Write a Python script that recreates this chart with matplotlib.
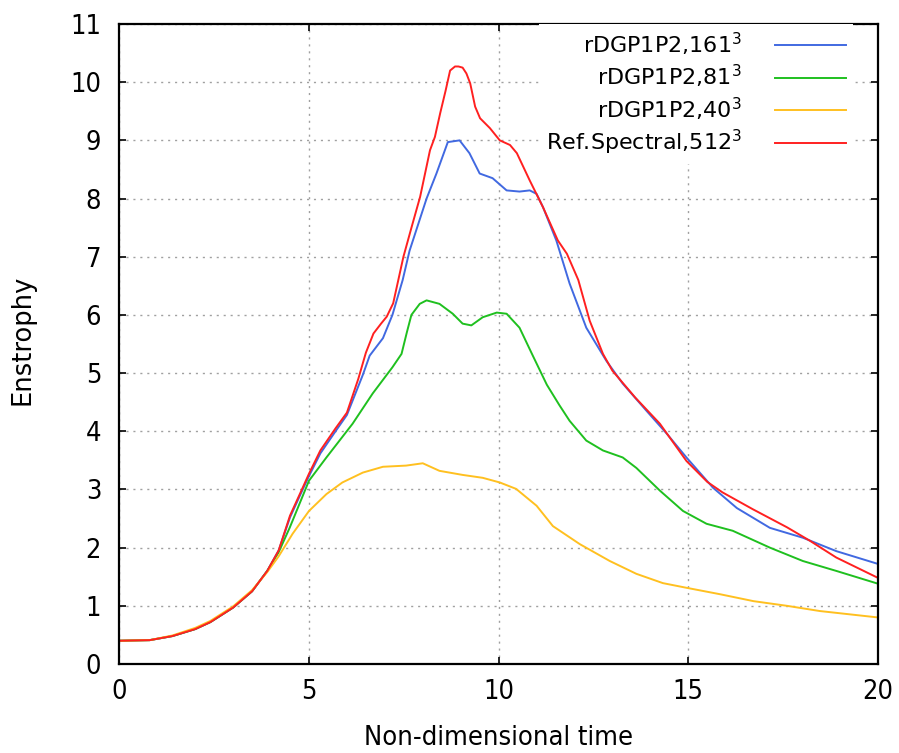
import matplotlib
matplotlib.use("Agg")
import matplotlib.pyplot as plt
from matplotlib import font_manager as fm

# ---- data ----
t_blue = [0, 0.8, 1.4, 2.0, 2.4, 3.0, 3.5, 3.9, 4.2, 4.5, 4.8, 5.0, 5.3, 5.7, 6.0, 6.42, 6.6,
          6.95, 7.2, 7.47, 7.65, 8.1, 8.36, 8.66, 8.97, 9.23, 9.5, 9.84, 10.21, 10.55, 10.82,
          11.0, 11.17, 11.52, 11.87, 12.31, 12.84, 13.27, 13.9, 14.43, 14.95, 15.65, 16.28,
          17.15, 18.02, 18.9, 20.0]
v_blue = [0.4, 0.41, 0.48, 0.6, 0.72, 0.97, 1.25, 1.6, 1.95, 2.52, 2.95, 3.23, 3.62, 4.0, 4.28,
          4.97, 5.3, 5.6, 6.0, 6.6, 7.1, 8.0, 8.43, 8.97, 9.0, 8.78, 8.43, 8.35, 8.14, 8.12, 8.14,
          8.08, 7.85, 7.28, 6.54, 5.78, 5.21, 4.82, 4.35, 3.96, 3.55, 3.03, 2.68, 2.34, 2.17,
          1.94, 1.72]

t_green = [0, 0.8, 1.4, 2.0, 2.4, 3.0, 3.5, 3.9, 4.2, 4.49, 5.0, 5.46, 6.15, 6.68, 7.2, 7.44,
           7.58, 7.7, 7.92, 8.1, 8.44, 8.79, 9.05, 9.28, 9.58, 9.95, 10.21, 10.55, 10.9, 11.27,
           11.6, 11.87, 12.31, 12.75, 13.27, 13.63, 14.25, 14.86, 15.48, 16.17, 17.15, 18.02,
           18.9, 20.0]
v_green = [0.4, 0.41, 0.48, 0.6, 0.72, 0.97, 1.25, 1.6, 1.92, 2.34, 3.15, 3.55, 4.13, 4.65, 5.1,
           5.33, 5.7, 6.0, 6.19, 6.25, 6.19, 6.02, 5.85, 5.82, 5.96, 6.04, 6.02, 5.78, 5.3, 4.8,
           4.45, 4.18, 3.84, 3.67, 3.55, 3.37, 2.98, 2.63, 2.41, 2.29, 2.0, 1.77, 1.6, 1.38]

t_yellow = [0, 0.8, 1.4, 2.0, 2.4, 3.0, 3.5, 3.9, 4.2, 4.57, 5.0, 5.46, 5.88, 6.42, 6.95, 7.56,
            8.0, 8.44, 9.05, 9.58, 10.03, 10.46, 11.0, 11.43, 12.14, 12.93, 13.63, 14.33, 14.95,
            15.83, 16.72, 17.6, 18.47, 20.0]
v_yellow = [0.4, 0.41, 0.49, 0.62, 0.74, 0.99, 1.27, 1.58, 1.85, 2.24, 2.63, 2.92, 3.12, 3.29,
            3.39, 3.41, 3.45, 3.32, 3.25, 3.2, 3.12, 3.01, 2.72, 2.37, 2.06, 1.77, 1.55, 1.39,
            1.31, 1.2, 1.08, 1.0, 0.91, 0.8]

t_red = [0, 0.8, 1.4, 2.0, 2.4, 3.0, 3.5, 3.9, 4.2, 4.5, 4.8, 5.0, 5.3, 5.7, 6.0, 6.3, 6.5, 6.7,
         6.9, 7.05, 7.22, 7.49, 7.71, 7.93, 8.19, 8.32, 8.46, 8.6, 8.72, 8.85, 8.94, 9.05, 9.15,
         9.25, 9.38, 9.51, 9.77, 10.03, 10.3, 10.48, 10.82, 11.17, 11.56, 11.8, 12.1, 12.4,
         12.75, 13.0, 13.6, 14.25, 14.95, 15.5, 15.9, 16.7, 17.6, 18.2, 18.9, 20.0]
v_red = [0.4, 0.41, 0.48, 0.6, 0.72, 0.97, 1.25, 1.6, 1.95, 2.55, 2.98, 3.27, 3.67, 4.05, 4.32,
         4.9, 5.35, 5.68, 5.85, 5.97, 6.2, 7.0, 7.52, 8.03, 8.83, 9.06, 9.47, 9.85, 10.2, 10.27,
         10.27, 10.25, 10.15, 9.98, 9.58, 9.38, 9.21, 9.0, 8.92, 8.78, 8.31, 7.85, 7.28, 7.05,
         6.6, 5.9, 5.33, 5.04, 4.58, 4.13, 3.49, 3.13, 2.95, 2.66, 2.35, 2.12, 1.83, 1.48]

labels = [r"rDGP1P2,161$^3$", r"rDGP1P2,81$^3$", r"rDGP1P2,40$^3$", r"Ref.Spectral,512$^3$"]
colors = ["#4169e1", "#1fc01f", "#ffc020", "#ff2020"]
x_ticks = [0, 5, 10, 15, 20]
y_ticks = list(range(0, 12))

# ---- fonts ----
plt.rcParams["font.family"] = ["DejaVu Sans"]
plt.rcParams["mathtext.fontset"] = "dejavusans"
cond = fm.FontProperties(family="DejaVu Sans", stretch="condensed")
cond_file = fm.findfont(cond)
if "Condensed" in cond_file:
    tick_fp = fm.FontProperties(fname=cond_file, size=19.5)
    lab_fp = fm.FontProperties(fname=cond_file, size=19.5)
else:
    tick_fp = fm.FontProperties(family="DejaVu Sans", size=17)
    lab_fp = fm.FontProperties(family="DejaVu Sans", size=17.5)
ylab_fp = fm.FontProperties(family="DejaVu Sans", size=18.5)

fig = plt.figure(figsize=(8.99, 7.53), dpi=100)
ax = fig.add_axes([119.3 / 899, 1 - 664 / 753, (878 - 119.3) / 899, (664 - 24) / 753])

series = [(t_blue, v_blue), (t_green, v_green), (t_yellow, v_yellow), (t_red, v_red)]
for (tt, vv), lab, col in zip(series, labels, colors):
    ax.plot(tt, vv, color=col, lw=1.4, label=lab)

ax.set_xlim(0, 20)
ax.set_ylim(0, 11)
ax.set_xticks(x_ticks)
ax.set_yticks(y_ticks)
ax.tick_params(direction="in", length=5, width=1.2, top=True, right=True, colors="black")
ax.tick_params(axis="x", pad=11)
ax.tick_params(axis="y", pad=13)
for lbl in ax.get_xticklabels() + ax.get_yticklabels():
    lbl.set_fontproperties(tick_fp)
for s in ax.spines.values():
    s.set_linewidth(1.6)
ax.grid(True, color="#a0a0a0", linestyle=(0, (1.5, 3.5)), linewidth=1.0)

ax.set_xlabel("Non-dimensional time", fontproperties=lab_fp, labelpad=14)
ax.set_ylabel("Enstrophy", fontproperties=ylab_fp)
ax.yaxis.set_label_coords((36 - 119.3) / 758.7, (664 - 340) / 640)

leg = ax.legend(loc="upper right", bbox_to_anchor=(853 / 899, 1 - 24 / 753),
                bbox_transform=fig.transFigure, markerfirst=False, frameon=True,
                fontsize=16, handlelength=3.2, handletextpad=1.5, labelspacing=0.24,
                borderpad=0.3, borderaxespad=0, fancybox=False)
leg.get_frame().set_facecolor("white")
leg.get_frame().set_edgecolor("none")
leg.get_frame().set_alpha(1)
for txt in leg.get_texts():
    txt.set_ha("right")
leg._legend_box.align = "right"

fig.savefig("out.png", dpi=100)
